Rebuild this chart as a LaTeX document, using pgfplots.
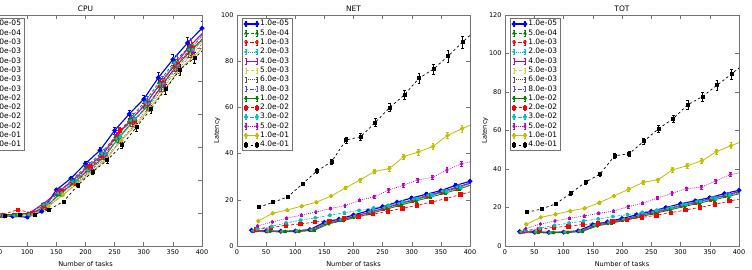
\documentclass[border=0pt]{standalone}
\usepackage{fontspec}
\setmainfont{DejaVu Sans}
\usepackage{pgfplots}
\usepackage{pgfplotstable}
\pgfplotsset{compat=1.18}

\definecolor{mb}{rgb}{0,0,1}
\definecolor{mg}{rgb}{0,0.5,0}
\definecolor{mr}{rgb}{1,0,0}
\definecolor{mc}{rgb}{0,0.75,0.75}
\definecolor{mm}{rgb}{0.75,0,0.75}
\definecolor{my}{rgb}{0.75,0.75,0}
\definecolor{mk}{rgb}{0,0,0}

\pgfplotstableread{
n s0 s1 s2 s3 s4 s5 s6 s7 s8 s9 s10 s11 s12 s13
25 0.18 0.18 0.185 0.18 0.18 0.18 0.185 0.18 0.18 0.18 0.18 0.185 0.18 0.18
50 0.18 0.185 0.18 0.19 0.18 0.18 0.18 0.18 0.19 0.19 0.185 0.18 0.18 0.18
75 0.18 0.19 0.19 0.185 0.19 0.18 0.19 0.185 0.19 0.22 0.19 0.19 0.19 0.19
100 0.175 0.19 0.20 0.19 0.20 0.19 0.19 0.19 0.20 0.20 0.19 0.20 0.19 0.19
125 0.21 0.25 0.24 0.25 0.26 0.24 0.23 0.25 0.24 0.24 0.25 0.24 0.24 0.22
150 0.34 0.31 0.33 0.32 0.33 0.31 0.32 0.34 0.32 0.33 0.32 0.31 0.31 0.27
175 0.41 0.40 0.38 0.39 0.40 0.38 0.39 0.40 0.39 0.38 0.39 0.38 0.38 0.37
200 0.50 0.48 0.47 0.46 0.48 0.46 0.47 0.49 0.47 0.48 0.46 0.46 0.45 0.45
225 0.58 0.56 0.54 0.56 0.55 0.53 0.55 0.57 0.54 0.55 0.55 0.54 0.53 0.52
250 0.70 0.66 0.67 0.65 0.67 0.64 0.65 0.68 0.66 0.70 0.66 0.64 0.64 0.61
275 0.80 0.77 0.75 0.76 0.77 0.74 0.75 0.78 0.76 0.76 0.77 0.74 0.73 0.72
300 0.89 0.87 0.86 0.87 0.86 0.84 0.85 0.88 0.85 0.86 0.86 0.85 0.84 0.83
325 1.02 0.99 0.97 0.98 0.99 0.96 0.97 1.00 0.98 0.99 0.98 0.97 0.95 0.95
350 1.13 1.11 1.09 1.11 1.10 1.08 1.09 1.12 1.10 1.10 1.09 1.08 1.07 1.07
375 1.23 1.20 1.18 1.19 1.21 1.16 1.18 1.22 1.19 1.20 1.19 1.17 1.15 1.14
400 1.32 1.29 1.28 1.29 1.30 1.26 1.27 1.31 1.28 1.28 1.27 1.26 1.24 1.22
}\tabCPU

\pgfplotstableread{
n s0 s1 s2 s3 s4 s5 s6 s7 s8 s9 s10 s11 s12 s13
25 6.8 6.5 6.4 6.7 6.3 6.5 6.6 6.7 6.6 7.2 7.4 8.7 10.8 16.8
50 6.5 6.4 6.3 6.5 6.2 6.4 6.4 6.5 6.4 7.9 8.5 10.4 14.2 18.9
75 6.4 6.2 6.4 6.3 6.1 6.3 6.3 6.4 6.3 9.0 10.0 12.0 15.6 21.3
100 6.5 6.3 6.6 6.5 6.3 6.4 6.5 6.5 6.4 9.5 11.2 13.4 17.3 26.9
125 7.1 6.8 7.0 7.0 6.8 6.9 7.0 7.0 6.8 10.4 12.2 14.7 19.0 32.5
150 10.2 9.6 9.9 10.0 9.7 9.8 9.9 10.1 9.6 11.0 13.3 16.2 21.6 36.5
175 11.6 11.0 11.3 11.4 11.2 11.3 11.2 11.5 11.0 11.9 14.4 17.5 25.2 45.9
200 13.4 12.6 12.9 13.0 12.9 12.7 12.8 13.1 12.6 12.8 15.4 19.8 28.6 47.3
225 15.2 14.5 14.4 14.8 14.7 14.5 14.6 15.0 14.3 13.8 16.5 21.3 32.3 53.5
250 17.0 16.2 16.0 16.6 16.4 16.2 16.4 16.8 16.0 15.0 17.6 24.2 33.5 60.0
275 19.0 18.0 17.9 18.4 18.3 18.0 18.2 18.6 17.8 16.3 19.0 26.3 38.7 65.4
300 20.8 19.8 19.6 20.3 20.1 19.8 20.0 20.4 19.5 17.6 20.5 28.6 40.7 72.6
325 22.4 21.5 21.3 22.0 21.9 21.5 21.8 22.2 21.2 19.0 22.0 29.7 43.1 76.6
350 24.0 23.2 23.1 23.8 23.6 23.3 23.5 23.9 22.9 20.5 23.5 32.9 47.9 82.2
375 26.2 25.0 25.1 25.6 25.5 25.2 25.4 25.9 24.8 22.3 25.2 35.6 50.8 88.3
400 28.0 27.2 27.0 27.4 27.6 27.3 27.5 27.8 26.8 24.0 27.0 37.0 53.5 94.0
}\tabNET

\pgfplotstableread{
n s0 s1 s2 s3 s4 s5 s6 s7 s8 s9 s10 s11 s12 s13
25 7.5 7.2 7.1 7.4 7.0 7.2 7.3 7.4 7.3 7.9 8.1 9.0 11.3 17.5
50 7.2 7.1 7.0 7.2 6.9 7.1 7.1 7.2 7.1 8.6 9.2 11.4 14.9 19.2
75 7.1 6.9 7.1 7.0 6.8 7.0 7.0 7.1 7.0 9.7 10.7 13.0 16.5 22.0
100 7.2 7.0 7.3 7.2 7.0 7.1 7.2 7.2 7.1 10.2 11.9 14.4 18.2 27.4
125 7.9 7.6 7.8 7.8 7.6 7.7 7.8 7.8 7.6 11.2 13.0 15.6 19.6 33.1
150 11.0 10.4 10.7 10.8 10.5 10.6 10.7 10.9 10.4 11.8 14.1 17.0 22.5 37.4
175 12.5 11.9 12.2 12.3 12.1 12.2 12.1 12.4 11.9 12.8 15.3 18.2 26.0 46.8
200 14.3 13.5 13.8 13.9 13.8 13.6 13.7 14.0 13.5 13.7 16.3 20.4 29.5 48.0
225 16.2 15.5 15.4 15.8 15.7 15.5 15.6 16.0 15.3 14.8 17.5 22.3 33.1 54.4
250 18.0 17.2 17.0 17.6 17.4 17.2 17.4 17.8 17.0 16.0 18.6 24.9 34.4 60.9
275 20.0 19.0 18.9 19.4 19.3 19.0 19.2 19.6 18.8 17.3 20.0 27.4 39.6 66.1
300 21.9 20.9 20.7 21.4 21.2 20.9 21.1 21.5 20.6 18.7 21.6 29.8 41.7 73.4
325 23.5 22.6 22.4 23.1 23.0 22.6 22.9 23.3 22.3 20.1 23.1 30.6 44.2 77.6
350 25.1 24.3 24.2 24.9 24.7 24.4 24.6 25.0 24.0 21.6 24.6 33.8 49.0 83.5
375 27.2 26.0 26.1 26.6 26.5 26.2 26.4 26.9 25.8 23.3 26.2 37.2 52.1 89.4
400 28.9 28.1 27.9 28.3 28.5 28.2 28.4 28.7 27.7 24.9 27.9 38.5 55.0 95.5
}\tabTOT

\pgfplotsset{
  ser0/.style={color=mb, solid, line width=1.15pt, mark=*, mark size=1.8pt},
  ser1/.style={color=mg, dash pattern=on 3pt off 2pt, line width=0.7pt, mark=triangle*, mark size=1.6pt},
  ser2/.style={color=mr, dash pattern=on 2.5pt off 1.2pt on 0.6pt off 1.2pt, line width=0.7pt, mark=triangle*, mark size=1.5pt, mark options={solid,rotate=180}},
  ser3/.style={color=mc, dash pattern=on 0.8pt off 1.2pt, line width=0.7pt, mark=triangle*, mark size=1.5pt, mark options={solid,rotate=90}},
  ser4/.style={color=mm, solid, line width=0.9pt, mark=none},
  ser5/.style={color=my!75, dash pattern=on 3pt off 2pt, line width=0.6pt, mark=none},
  ser6/.style={color=black!70, dash pattern=on 0.8pt off 1.2pt, line width=0.6pt, mark=none},
  ser7/.style={color=mb!70, dash pattern=on 2.5pt off 1.2pt on 0.6pt off 1.2pt, line width=0.6pt, mark=none},
  ser8/.style={color=mg, solid, line width=0.8pt, mark=*, mark size=1.4pt},
  ser9/.style={color=mr, dash pattern=on 3pt off 2pt, line width=0.7pt, mark=square*, mark size=1.7pt},
  ser10/.style={color=mc, dash pattern=on 2.5pt off 1.2pt on 0.6pt off 1.2pt, line width=0.7pt, mark=pentagon*, mark size=1.6pt},
  ser11/.style={color=mm, dash pattern=on 0.8pt off 1.2pt, line width=0.7pt, mark=diamond*, mark size=1.6pt},
  ser12/.style={color=my, solid, line width=0.8pt, mark=*, mark size=1.8pt},
  ser13/.style={color=mk, dash pattern=on 2.5pt off 2.5pt, line width=0.7pt, mark=square*, mark size=1.5pt},
  mplaxis/.style={
    scale only axis, width=233pt, height=231pt,
    xmin=0, xmax=400, xtick={0,50,...,400},
    tick align=inside, tick pos=both, major tick length=4pt,
    axis line style={black!55, line width=0.6pt},
    every tick/.style={black!55, line width=0.5pt},
    ticklabel style={font=\fontsize{6.5}{7}\selectfont},
    /pgf/number format/assume math mode=true,
    xlabel={Number of tasks}, ylabel={Latency},
    label style={font=\fontsize{6.6}{7}\selectfont},
    ylabel style={yshift=-6pt},
    every axis title/.style={at={(0.5,1)}, above, yshift=-0.5pt, font=\fontsize{7.5}{8}\selectfont},
    legend cell align=left,
    legend style={draw=black!55, line width=0.5pt, fill=white,
      font=\fontsize{7.5}{8}\selectfont,
      at={(0.021,0.987)}, anchor=north west,
      inner xsep=2pt, inner ysep=1.5pt, row sep=0.9pt,
      nodes={inner ysep=0.6pt, inner xsep=1.5pt, text height=5.6pt, text depth=1.6pt}},
    legend image code/.code={%
      \draw[##1,solid,line width=0.45pt,mark=none]
        (0pt,-2.6pt)--(0pt,2.6pt) (11pt,-2.6pt)--(11pt,2.6pt)
        (-1.3pt,-2.6pt)--(1.3pt,-2.6pt) (-1.3pt,2.6pt)--(1.3pt,2.6pt)
        (9.7pt,-2.6pt)--(12.3pt,-2.6pt) (9.7pt,2.6pt)--(12.3pt,2.6pt);
      \draw[##1] plot coordinates {(0pt,0pt) (11pt,0pt)};
    },
    every axis plot/.append style={
      error bars/y dir=both, error bars/y fixed relative=0.03,
      error bars/error bar style={solid,line width=0.45pt},
      error bars/error mark options={rotate=90,mark size=1.4pt,solid,line width=0.45pt},
      mark options={solid}},
  },
}

\newcommand{\allplots}[1]{%
  \pgfplotsinvokeforeach{0,...,13}{%
    \addplot[ser##1] table[x expr=\thisrow{n}+0.95*##1, y=s##1]{#1};
  }%
  \legend{1.0e-05,5.0e-04,1.0e-03,2.0e-03,4.0e-03,5.0e-03,6.0e-03,8.0e-03,1.0e-02,2.0e-02,3.0e-02,5.0e-02,1.0e-01,4.0e-01}
}

\begin{document}
\begin{tikzpicture}
\begin{axis}[mplaxis, at={(-31pt,24pt)}, anchor=south west, title={CPU},
  ymin=0, ymax=1.4, ytick={0,0.2,...,1.4}]
\allplots{\tabCPU}
\end{axis}
\begin{axis}[mplaxis, at={(237pt,24pt)}, anchor=south west, title={NET},
  ymin=0, ymax=100, ytick={0,20,...,100}]
\allplots{\tabNET}
\end{axis}
\begin{axis}[mplaxis, at={(505pt,24pt)}, anchor=south west, title={TOT},
  ymin=0, ymax=120, ytick={0,20,...,120}, width=234pt]
\allplots{\tabTOT}
\end{axis}
\pgfresetboundingbox
\useasboundingbox (0,0) rectangle (752pt,270pt);
\end{tikzpicture}
\end{document}
